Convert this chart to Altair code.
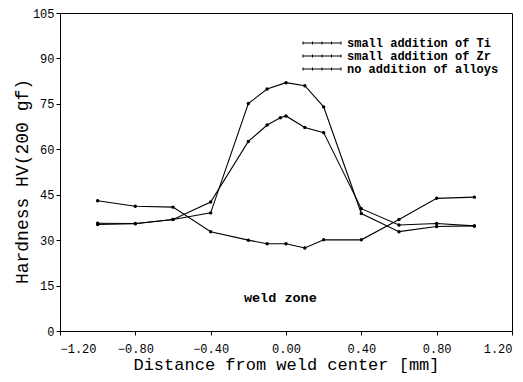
import altair as alt
import pandas as pd

series_names = ["small addition of Ti", "small addition of Zr", "no addition of alloys"]

x_ti = [-1.0, -0.8, -0.6, -0.4, -0.2, -0.1, 0.0, 0.1, 0.2, 0.4, 0.6, 0.8, 1.0]
y_ti = [35.2, 35.4, 36.8, 39.0, 75.1, 79.9, 82.0, 81.0, 74.0, 38.8, 32.8, 34.5, 34.7]

x_zr = [-1.0, -0.8, -0.6, -0.4, -0.2, -0.1, -0.03, 0.0, 0.1, 0.2, 0.4, 0.6, 0.8, 1.0]
y_zr = [35.6, 35.5, 36.8, 42.6, 62.6, 68.0, 70.4, 71.0, 67.2, 65.5, 40.4, 35.0, 35.5, 34.7]

x_no = [-1.0, -0.8, -0.6, -0.4, -0.2, -0.1, 0.0, 0.1, 0.2, 0.4, 0.6, 0.8, 1.0]
y_no = [43.0, 41.2, 40.9, 32.8, 30.0, 28.8, 28.8, 27.4, 30.1, 30.1, 36.8, 43.8, 44.2]

x_ticks = [-1.2, -0.8, -0.4, 0.0, 0.4, 0.8, 1.2]
y_ticks = [0, 15, 30, 45, 60, 75, 90, 105]

note_text = ["weld zone"]
note_x = [-0.03]
note_y = [11]

rows = []
for name, xs, ys in zip(series_names, [x_ti, x_zr, x_no], [y_ti, y_zr, y_no]):
    for i, (a, b) in enumerate(zip(xs, ys)):
        rows.append({"series": name, "x": a, "y": b, "order": i})
df = pd.DataFrame(rows)
notes = pd.DataFrame({"text": note_text, "x": note_x, "y": note_y})

FONT = "Liberation Mono"

# legend symbol: a line with small marks, drawn to the left of the symbol anchor
legend_path = ("M-7.6,0H0"
               "M-7.6,-0.3V0.3M-5.7,-0.3V0.3M-3.8,-0.3V0.3M-1.9,-0.3V0.3M0,-0.3V0.3")

xscale = alt.Scale(domain=[-1.2, 1.2], nice=False, zero=False)
yscale = alt.Scale(domain=[0, 105], nice=False, zero=False)

xenc = alt.X("x:Q", scale=xscale,
             axis=alt.Axis(values=x_ticks, format=".2f", title="Distance from weld center [mm]",
                           tickSize=4, labelPadding=8,
                           titleY=33, titleBaseline="middle",
                           labelFont=FONT, labelFontSize=12, titleFont=FONT,
                           titleFontSize=17, titleFontWeight="normal"))
yenc = alt.Y("y:Q", scale=yscale,
             axis=alt.Axis(values=y_ticks, format="d", title="Hardness HV(200 gf)",
                           tickSize=4, labelPadding=2,
                           titleX=-38, titleY=168, titleAngle=270, titleBaseline="middle",
                           labelFont=FONT, labelFontSize=12, titleFont=FONT,
                           titleFontSize=18, titleFontWeight="normal"))

color = alt.Color("series:N",
                  scale=alt.Scale(domain=series_names, range=["black", "black", "black"]),
                  legend=alt.Legend(title=None, orient="none", legendX=275, legendY=24,
                                    symbolType=legend_path, symbolSize=100, symbolStrokeWidth=1,
                                    symbolFillColor="transparent",
                                    labelFont=FONT, labelFontSize=12, labelFontWeight="bold",
                                    labelColor="black", labelOffset=0, rowPadding=1,
                                    symbolStrokeColor="black"))

lines = alt.Chart(df).mark_line(strokeWidth=1.1).encode(
    x=xenc, y=yenc, color=color, detail="series:N", order="order:Q")
pts = alt.Chart(df).mark_point(filled=True, size=12, opacity=1, color="black").encode(
    x="x:Q", y="y:Q", detail="series:N")
txt = alt.Chart(notes).mark_text(font=FONT, fontSize=13.5, fontWeight="bold", color="black").encode(
    x="x:Q", y="y:Q", text="text:N")

chart = alt.layer(lines, pts, txt).properties(
    width=452, height=318,
    padding={"left": 52, "top": 5, "right": 3, "bottom": 43},
    autosize=alt.AutoSizeParams(type="none"),
    background="white",
).configure_view(stroke="black", strokeWidth=1).configure_axis(
    grid=False, domainColor="black", tickColor="black", labelColor="black", titleColor="black",
    domainWidth=1)

chart.save("out.html", embed_options={"renderer": "svg", "actions": False})
